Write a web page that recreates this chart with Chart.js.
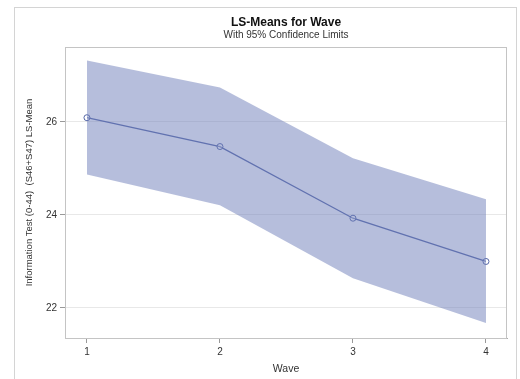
<!DOCTYPE html>
<html>
<head>
<meta charset="utf-8">
<script src="https://cdn.jsdelivr.net/npm/chart.js@4"></script>
<style>
  html, body { margin: 0; padding: 0; background: #fff; }
  #wrap { position: relative; width: 520px; height: 379px; overflow: hidden; }
  #frame { position: absolute; left: 14px; top: 7px; width: 501px; height: 400px; border: 1px solid #d4d4d4; }
  canvas { position: absolute; left: 0; top: 0; }
</style>
</head>
<body>
<div id="wrap">
  <div id="frame"></div>
  <canvas id="lsmeans" width="520" height="379"></canvas>
</div>
<script>
// LS-means by wave with 95% limits
const waves = [1, 2, 3, 4];
const lsMean = [26.09, 25.47, 23.93, 23.00];
const upperCL = [27.32, 26.74, 25.22, 24.34];
const lowerCL = [24.87, 24.21, 22.64, 21.68];
const yTicks = [22, 24, 26];

const textColor = '#333';
const fontFamily = '"Liberation Sans", Arial, sans-serif';

const toPoints = (vals) => waves.map((w, i) => ({ x: w, y: vals[i] }));

// plot box + titles, SAS style
const frameAndTitles = {
  id: 'frameAndTitles',
  afterDraw(chart) {
    const { ctx, chartArea } = chart;
    ctx.save();
    ctx.strokeStyle = '#c4c4c4';
    ctx.lineWidth = 1;
    ctx.strokeRect(chartArea.left + 0.5, chartArea.top + 0.5,
      chartArea.right - chartArea.left - 1, chartArea.bottom - chartArea.top);
    const cx = (chartArea.left + chartArea.right) / 2;
    ctx.fillStyle = '#111';
    ctx.textAlign = 'center';
    ctx.textBaseline = 'middle';
    ctx.font = 'bold 12px ' + fontFamily;
    ctx.fillText('LS-Means for Wave', cx, 23);
    ctx.fillStyle = textColor;
    ctx.font = '10px ' + fontFamily;
    ctx.fillText('With 95% Confidence Limits', cx, 35);
    ctx.restore();
  }
};

const canvas = document.getElementById('lsmeans');
const ctx = canvas.getContext('2d');

new Chart(ctx, {
  type: 'line',
  data: {
    datasets: [
      {
        label: 'Lower',
        data: toPoints(lowerCL),
        borderWidth: 0,
        pointRadius: 0,
        fill: false,
        tension: 0,
      },
      {
        label: 'Upper',
        data: toPoints(upperCL),
        borderWidth: 0,
        pointRadius: 0,
        backgroundColor: 'rgba(110,126,186,0.5)',
        fill: '-1',
        tension: 0,
      },
      {
        label: 'LS-Mean',
        data: toPoints(lsMean),
        borderColor: '#5566a6',
        borderWidth: 1.3,
        pointRadius: 3,
        pointBorderWidth: 1,
        pointBorderColor: '#5566a6',
        pointBackgroundColor: 'rgba(255,255,255,0.3)',
        fill: false,
        tension: 0,
      },
    ],
  },
  options: {
    responsive: false,
    animation: false,
    layout: { padding: { left: 0, right: 13, top: 47, bottom: 0 } },
    plugins: {
      legend: { display: false },
      tooltip: { enabled: false },
      title: { display: false },
    },
    scales: {
      x: {
        type: 'linear',
        min: 0.835,
        max: 4.158,
        afterBuildTicks: (scale) => { scale.ticks = waves.map(v => ({ value: v })); },
        afterFit: (scale) => { scale.height = 41; },
        grid: { drawOnChartArea: false, drawTicks: true, tickLength: 5, tickColor: '#999' },
        border: { color: '#aaa' },
        ticks: { color: textColor, font: { family: fontFamily, size: 10 }, padding: 3, maxRotation: 0 },
        title: {
          display: true,
          text: 'Wave',
          color: textColor,
          font: { family: fontFamily, size: 10.5 },
          padding: { top: 0, bottom: 4 },
        },
      },
      y: {
        type: 'linear',
        min: 21.355,
        max: 27.61,
        afterBuildTicks: (scale) => { scale.ticks = yTicks.map(v => ({ value: v })); },
        afterFit: (scale) => { scale.width = 65; },
        grid: { color: '#e8e8e8', tickColor: '#999', tickLength: 5 },
        border: { color: '#aaa' },
        ticks: { color: textColor, font: { family: fontFamily, size: 10 }, padding: 3 },
        title: {
          display: true,
          text: 'Information Test (0-44)  (S46+S47) LS-Mean',
          color: textColor,
          font: { family: fontFamily, size: 9.5 },
          padding: { top: 24, bottom: 0 },
        },
      },
    },
  },
  plugins: [frameAndTitles],
});
</script>
</body>
</html>
